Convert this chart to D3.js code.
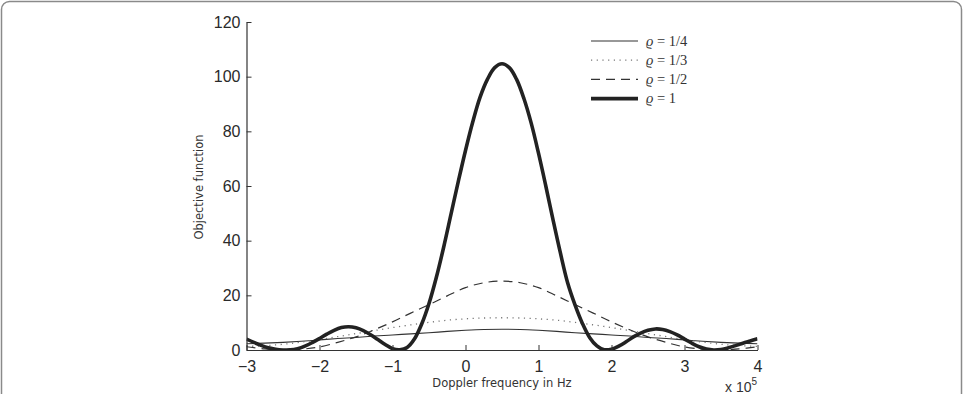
<!DOCTYPE html>
<html><head><meta charset="utf-8">
<script src="https://cdn.jsdelivr.net/npm/d3@7"></script>
<style>body{margin:0;background:#fff}svg{display:block}</style>
</head><body>
<svg id="c" width="964" height="394"></svg>
<script>
// Fine grid for rho = 1 (step 0.1, x in units of 1e5 Hz)
const fineX = d3.range(-30, 41).map(i => i / 10);
const rho1 = [4.0,2.8,1.7,0.8,0.25,0.02,0.05,0.5,1.4,2.7,4.2,5.8,7.2,8.2,8.5,8.1,7.1,5.6,3.8,2.0,0.5,0.1,0.9,4.0,9.5,17,26.5,37.5,49.5,61.5,
  73,83.5,92.5,99,103.3,104.7,103.3,99,92,83,72,60,47.5,35.5,24.5,16.5,9.8,4.6,1.5,0.1,0.3,1.4,3.0,4.8,6.2,7.2,7.7,7.5,6.7,5.5,
  4.0,2.5,1.2,0.35,0.02,0.2,0.8,1.6,2.5,3.3,4.1];
// Coarse grid for the broad curves (step 0.25)
const coarseX = d3.range(0, 29).map(i => -3 + i * 0.25);
const rhoHalf = [1.2,0.4,0.05,0.3,1.1,2.8,4.8,7.4,10.3,13.5,16.6,19.8,22.8,24.6,25.2,24.6,22.8,19.8,16.6,13.5,10.3,7.4,4.8,2.8,1.1,0.3,0.05,0.4,1.2];
const rhoThird = [1.3,1.6,2.1,2.9,3.8,4.9,6.0,7.1,8.2,9.2,10.1,10.9,11.4,11.7,11.8,11.7,11.4,10.9,10.1,9.2,8.2,7.1,6.0,4.9,3.8,2.9,2.1,1.6,1.3];
const rhoQuarter = [2.3,2.5,2.8,3.2,3.7,4.2,4.6,5.1,5.5,5.9,6.3,6.8,7.2,7.5,7.6,7.5,7.2,6.8,6.3,5.9,5.5,5.1,4.6,4.2,3.7,3.2,2.8,2.5,2.3];
const xTicks = [-3,-2,-1,0,1,2,3,4];
const yTicks = [0,20,40,60,80,100,120];
const legendValues = ["1/4","1/3","1/2","1"];

const svg = d3.select("#c");
svg.append("rect").attr("x",1.5).attr("y",1.5).attr("width",960).attr("height",430).attr("rx",8)
  .attr("fill","none").attr("stroke","#8a8a8a").attr("stroke-width",1.5);

const L=246.5, R=757.5, T=22, B=350;
const x = d3.scaleLinear().domain([-3,4]).range([L,R]);
const y = d3.scaleLinear().domain([0,120]).range([B,T]);

svg.append("defs").append("clipPath").attr("id","clp").append("rect")
  .attr("x",L).attr("y",T-5).attr("width",R-L).attr("height",B-T+5);

const series = [
  {xs: coarseX, ys: rhoQuarter, w:1.1, dash:null, col:"#333"},
  {xs: coarseX, ys: rhoThird, w:1.3, dash:"1.2,4.5", col:"#777"},
  {xs: coarseX, ys: rhoHalf, w:1.2, dash:"9,6", col:"#333"},
  {xs: fineX, ys: rho1, w:3.6, dash:null, col:"#222"}
];
const line = d3.line().curve(d3.curveCatmullRom.alpha(0.5));
const g = svg.append("g").attr("clip-path","url(#clp)");
series.forEach(s=>{
  g.append("path").attr("d", line(s.xs.map((v,i)=>[x(v), y(Math.max(0,s.ys[i]))])))
   .attr("fill","none").attr("stroke",s.col).attr("stroke-width",s.w)
   .attr("stroke-dasharray",s.dash).attr("stroke-linejoin","round");
});

// Axes (ticks inward)
const fmt = d => d<0 ? "\u2212"+Math.abs(d) : String(d);
const ax = svg.append("g").attr("transform",`translate(0,${B})`)
  .call(d3.axisBottom(x).tickValues(xTicks).tickSizeInner(-5).tickSizeOuter(0).tickPadding(10).tickFormat(fmt));
const ay = svg.append("g").attr("transform",`translate(${L},0)`)
  .call(d3.axisLeft(y).tickValues(yTicks).tickSizeInner(-5).tickSizeOuter(0).tickPadding(6));
[ax,ay].forEach(a=>{
  a.select(".domain").attr("stroke","#333").attr("stroke-width",1.2);
  a.selectAll(".tick line").attr("stroke","#333");
  a.selectAll("text").attr("font-family","Liberation Sans, Arial, sans-serif").attr("font-size",16).attr("fill","#2a2a2a");
});
ax.selectAll("text").attr("dy","0.75em");

svg.append("text").attr("x",502).attr("y",387).attr("text-anchor","middle")
  .attr("font-family","DejaVu Sans, sans-serif").attr("font-size",11.5).attr("fill","#333")
  .text("Doppler frequency in Hz");
svg.append("text").attr("transform","translate(203,187) rotate(-90)").attr("text-anchor","middle")
  .attr("font-family","DejaVu Sans, sans-serif").attr("font-size",11.5).attr("fill","#333")
  .text("Objective function");
const mult = svg.append("text").attr("x",725).attr("y",392)
  .attr("font-family","Liberation Sans, Arial, sans-serif").attr("font-size",14).attr("fill","#333");
mult.append("tspan").text("x 10");
mult.append("tspan").attr("dy",-7).attr("font-size",10).text("5");

// Legend
const leg = svg.append("g");
series.forEach((s,i)=>{
  const yy = 41 + i*19.2;
  leg.append("line").attr("x1",591).attr("x2",638).attr("y1",yy).attr("y2",yy)
    .attr("stroke",s.col).attr("stroke-width",s.w).attr("stroke-dasharray",s.dash);
  const t = leg.append("text").attr("x",646).attr("y",yy+4.5)
    .attr("font-family","Liberation Serif, DejaVu Serif, serif").attr("font-size",14.5).attr("fill","#333");
  t.append("tspan").attr("font-style","italic").text("ϱ");
  t.append("tspan").text(" = " + legendValues[i]);
});
</script>
</body></html>
